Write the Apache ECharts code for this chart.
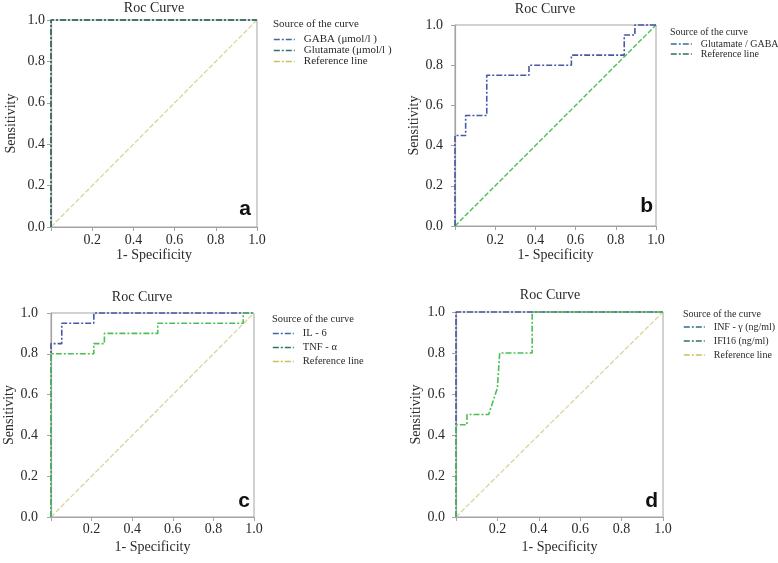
<!DOCTYPE html>
<html><head><meta charset="utf-8">
<script src="https://cdn.jsdelivr.net/npm/echarts@6/dist/echarts.min.js"></script>
<style>html,body{margin:0;padding:0;background:#fff}#c{width:778px;height:563px}</style>
</head><body><div id="c"></div><script>
// ---------- data ----------
const panelLetters = ['a', 'b', 'c', 'd'];
const chartTitle = 'Roc Curve';
const legendHeader = 'Source of the curve';
const xAxisName = '1- Specificity';
const yAxisName = 'Sensitivity';

// panel a
const aGabaX = [0, 0, 1];
const aGabaY = [0, 1, 1];
const aGluX = [0, 0, 1];
const aGluY = [0, 1, 1];
const aRefX = [0, 1];
const aRefY = [0, 1];
const aNames = ['GABA (\u03bcmol/l )', 'Glutamate (\u03bcmol/l )', 'Reference line'];

// panel b
const bRatioX = [0, 0, 0.053, 0.053, 0.158, 0.158, 0.368, 0.368, 0.579, 0.579, 0.842, 0.842, 0.895, 0.895, 1];
const bRatioY = [0, 0.45, 0.45, 0.55, 0.55, 0.75, 0.75, 0.80, 0.80, 0.85, 0.85, 0.95, 0.95, 1.0, 1.0];
const bRefX = [0, 1];
const bRefY = [0, 1];
const bNames = ['Glutamate / GABA', 'Reference line'];

// panel c
const cIL6X = [0, 0, 0.053, 0.053, 0.211, 0.211, 1];
const cIL6Y = [0, 0.85, 0.85, 0.95, 0.95, 1, 1];
const cTNFX = [0, 0, 0.211, 0.211, 0.263, 0.263, 0.526, 0.526, 0.947, 0.947, 1];
const cTNFY = [0, 0.8, 0.8, 0.85, 0.85, 0.9, 0.9, 0.95, 0.95, 1, 1];
const cRefX = [0, 1];
const cRefY = [0, 1];
const cNames = ['IL - 6', 'TNF - \u03b1', 'Reference line'];

// panel d
const dINFX = [0, 0, 1];
const dINFY = [0, 1, 1];
const dIFIX = [0, 0, 0.053, 0.053, 0.158, 0.2, 0.211, 0.368, 0.368, 1];
const dIFIY = [0, 0.45, 0.45, 0.5, 0.5, 0.63, 0.8, 0.8, 1, 1];
const dRefX = [0, 1];
const dRefY = [0, 1];
const dNames = ['INF - \u03b3 (ng/ml)', 'IFI16 (ng/ml)', 'Reference line'];

// ---------- styles ----------
const SERIF = '"Liberation Serif", "DejaVu Serif", serif';
const SANS = '"Liberation Sans", Arial, sans-serif';
const TXT = '#2a2a2a';
const AX = '#a3a3a3';
const BLUE = '#4a58a4';
const BGREEN = '#4cbf55';
const DGREEN = '#3b765e';
const KHAKI = '#d9d59c';
const LBLUE = '#3f66a8';
const TEAL = '#2d7462';
const LYEL = '#c8c25a';
const DASHDOT = [6, 2, 2, 2];
const DASH = [5, 2];

const zip = (xs, ys) => xs.map((x, i) => [x, ys[i]]);

const grids = [
  {left: 51, top: 20, width: 206, height: 207},
  {left: 455, top: 25, width: 201, height: 201},
  {left: 51, top: 313, width: 203, height: 204},
  {left: 456, top: 312, width: 207, height: 205}
];
const xNameGap = [15, 22, 23, 23];
const xLabelMargin = [6, 7, 5, 5];
const yNameGap = [33, 33, 35, 32];
const yLabelMargin = [6, 12, 13, 11];

function mkX(i) {
  return {
    type: 'value', gridIndex: i, min: 0, max: 1, interval: 0.2,
    name: xAxisName, nameLocation: 'middle', nameGap: xNameGap[i],
    nameTextStyle: {fontFamily: SERIF, fontSize: 14, color: TXT},
    axisLine: {show: true, onZero: false, lineStyle: {color: AX, width: 1.2}},
    axisTick: {show: true, length: 4, lineStyle: {color: AX}},
    axisLabel: {margin: xLabelMargin[i], fontFamily: SERIF, fontSize: 14, color: TXT,
      formatter: v => v === 0 ? '' : v.toFixed(1)},
    splitLine: {show: false}
  };
}
function mkY(i) {
  return {
    type: 'value', gridIndex: i, min: 0, max: 1, interval: 0.2,
    name: yAxisName, nameLocation: 'middle', nameGap: yNameGap[i],
    nameTextStyle: {fontFamily: SERIF, fontSize: 14, color: TXT},
    axisLine: {show: true, onZero: false, lineStyle: {color: AX, width: 1.2}},
    axisTick: {show: true, length: 4, lineStyle: {color: AX}},
    axisLabel: {margin: yLabelMargin[i], fontFamily: SERIF, fontSize: 14, color: TXT,
      formatter: v => v.toFixed(1)},
    splitLine: {show: false}
  };
}
function mkLine(id, i, xs, ys, color, dash, width, z) {
  return {
    type: 'line', name: id, xAxisIndex: i, yAxisIndex: i,
    data: zip(xs, ys), symbol: 'none', clip: false, z: z,
    lineStyle: {color: color, type: dash, width: width}, itemStyle: {color: color},
    emphasis: {disabled: true}, animation: false
  };
}

const labelMap = {
  a1: aNames[0], a2: aNames[1], a3: aNames[2],
  b1: bNames[0], b2: bNames[1],
  c1: cNames[0], c2: cNames[1], c3: cNames[2],
  d1: dNames[0], d2: dNames[1], d3: dNames[2]
};

const series = [
  mkLine('a3', 0, aRefX, aRefY, KHAKI, DASH, 1.3, 2),
  mkLine('a1', 0, aGabaX, aGabaY, BLUE, DASHDOT, 1.6, 3),
  mkLine('a2', 0, aGluX, aGluY, DGREEN, DASHDOT, 1.6, 4),
  mkLine('b2', 1, bRefX, bRefY, BGREEN, DASH, 1.4, 2),
  mkLine('b1', 1, bRatioX, bRatioY, BLUE, DASHDOT, 1.6, 3),
  mkLine('c3', 2, cRefX, cRefY, KHAKI, DASH, 1.3, 2),
  mkLine('c1', 2, cIL6X, cIL6Y, BLUE, DASHDOT, 1.6, 3),
  mkLine('c2', 2, cTNFX, cTNFY, BGREEN, DASHDOT, 1.6, 4),
  mkLine('d3', 3, dRefX, dRefY, KHAKI, DASH, 1.3, 2),
  mkLine('d1', 3, dINFX, dINFY, BLUE, DASHDOT, 1.6, 3),
  mkLine('d2', 3, dIFIX, dIFIY, BGREEN, DASHDOT, 1.6, 4)
];

function mkLegend(left, top, items, fs, gap) {
  return {
    orient: 'vertical', left: left, top: top, padding: 0,
    itemWidth: 21, itemHeight: 8, itemGap: gap, selectedMode: false,
    itemStyle: {opacity: 0},
    textStyle: {fontFamily: SERIF, fontSize: fs, color: TXT, lineHeight: fs, padding: [0, 0, 0, 4]},
    formatter: n => labelMap[n],
    data: items.map(([n, c]) => ({name: n, lineStyle: {color: c, type: DASHDOT, width: 1.6}}))
  };
}

const legends = [
  mkLegend(273, 34, [['a1', LBLUE], ['a2', TEAL], ['a3', LYEL]], 11, 0),
  mkLegend(670, 39, [['b1', '#3d6a9c'], ['b2', TEAL]], 10, 0),
  mkLegend(272, 328, [['c1', LBLUE], ['c2', TEAL], ['c3', LYEL]], 10.5, 3),
  mkLegend(683, 322, [['d1', '#2f6a8a'], ['d2', TEAL], ['d3', LYEL]], 10, 4)
];

const titlePos = [[154, 8], [545, 9], [142, 297], [550, 295]];
const headerPos = [[273, 24, 11], [670, 32, 10], [272, 319, 10.5], [683, 314, 10]];
const letterPos = [[251, 220], [653, 217], [250, 512], [658, 512]];

const graphic = [];
titlePos.forEach(([x, y]) => graphic.push({type: 'text', silent: true,
  style: {text: chartTitle, x: x, y: y, textAlign: 'center', textVerticalAlign: 'middle',
    font: '14px ' + SERIF, fill: TXT}}));
headerPos.forEach(([x, y, fs]) => graphic.push({type: 'text', silent: true,
  style: {text: legendHeader, x: x, y: y, textAlign: 'left', textVerticalAlign: 'middle',
    font: fs + 'px ' + SERIF, fill: TXT}}));
letterPos.forEach(([x, y], i) => graphic.push({type: 'text', silent: true, z: 10,
  style: {text: panelLetters[i], x: x, y: y, textAlign: 'right', textVerticalAlign: 'bottom',
    font: 'bold 21px ' + SANS, fill: '#111'}}));

const chart = echarts.init(document.getElementById('c'), null, {renderer: 'canvas'});
chart.setOption({
  backgroundColor: '#ffffff',
  animation: false,
  grid: grids.map(g => Object.assign({show: true, borderColor: AX, borderWidth: 1, backgroundColor: '#fff', containLabel: false}, g)),
  xAxis: [0, 1, 2, 3].map(mkX),
  yAxis: [0, 1, 2, 3].map(mkY),
  legend: legends,
  series: series,
  graphic: graphic
});
</script></body></html>
